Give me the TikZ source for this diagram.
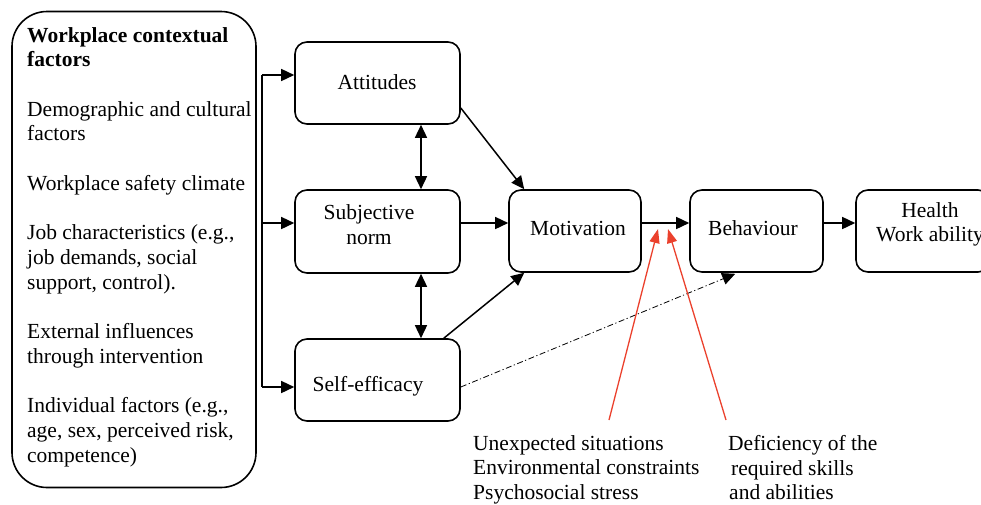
\documentclass[tikz,border=0pt]{standalone}
\usepackage{fontspec}
\setmainfont{Liberation Serif}
\usetikzlibrary{arrows.meta,calc}
\definecolor{redarrow}{RGB}{235,65,45}
\begin{document}
\begin{tikzpicture}[x=1pt,y=-1pt,
  box/.style={draw,line width=1.6pt,rounded corners=12pt,inner sep=0pt},
  txt/.style={font=\fontsize{21.5}{24.7}\selectfont,inner sep=0pt},
  conn/.style={line width=1.5pt},
  arr/.style={line width=1.5pt,-{Triangle[length=13pt,width=12pt]}},
  darr/.style={line width=1.5pt,{Triangle[length=13pt,width=12pt]}-{Triangle[length=13pt,width=12pt]}},
  redarr/.style={draw=redarrow,line width=1.3pt,-{Triangle[length=14pt,width=10pt,fill=redarrow]}},
  dasharr/.style={line width=0.8pt,dash pattern=on 6pt off 2.5pt on 1.2pt off 2.5pt,-{Triangle[length=13pt,width=12pt]}}]
\useasboundingbox (0,0) rectangle (981,504);
\clip (0,0) rectangle (981,504);

% boxes
\node[box,rounded corners=35pt,minimum width=244pt,minimum height=476pt] (ctx) at (134,249.5) {};
\node[box,minimum width=165pt,minimum height=82pt] (att) at (377.5,83) {};
\node[box,minimum width=165pt,minimum height=83pt] (sn) at (377.5,231.5) {};
\node[box,minimum width=165pt,minimum height=82pt] (se) at (377.5,380) {};
\node[box,minimum width=132pt,minimum height=82pt] (mot) at (575,231) {};
\node[box,minimum width=133pt,minimum height=82pt] (beh) at (756.5,231) {};
\node[box,minimum width=134pt,minimum height=82pt] (hea) at (923,231) {};

% texts
\node[txt,anchor=north west,align=left] (ctxt) at (27,27)
 {\textbf{Workplace contextual}\\\textbf{factors}\\[24.7pt]
  Demographic and cultural\\factors\\[24.7pt]
  Workplace safety climate\\[24.7pt]
  Job characteristics (e.g.,\\job demands, social\\support, control).\\[24.7pt]
  External influences\\through intervention\\[24.7pt]
  Individual factors (e.g.,\\age, sex, perceived risk,\\competence)};
\node[txt] (attt) at (377,82) {Attitudes};
\node[txt,align=center] (snt) at (369,224.5) {Subjective\\norm};
\node[txt] (set) at (368,386) {Self-efficacy};
\node[txt] (mott) at (578,228) {Motivation};
\node[txt] (beht) at (753,228) {Behaviour};
\node[txt,align=center] (heat) at (930,224.5) {Health\\Work ability};
\node[txt,anchor=north west,align=left] (lowa) at (473,435)
 {Unexpected situations\\Environmental constraints\\Psychosocial stress};
\node[txt,anchor=north west,align=left] (lowb) at (728,435)
 {Deficiency of the\\\hspace*{3pt}required skills\\\hspace*{1pt}and abilities};

% bracket
\coordinate (bt) at (262,75);
\coordinate (bm) at (262,223);
\coordinate (bb) at (262,387);
\draw[conn] (bt) -- (bb);
\draw[arr] (bt) -- (bt -| att.west);
\draw[arr] (bm) -- (bm -| sn.west);
\draw[arr] (bb) -- (bb -| se.west);

% connectors
\draw[darr] ($(att.south)+(43.5,0)$) -- ($(sn.north)+(43.5,0)$);
\draw[darr] ($(sn.south)+(43.5,0)$) -- ($(se.north)+(43.5,0)$);
\draw[arr] ($(att.east)+(0,25)$) -- ($(mot.north west)+(16,0)$);
\draw[arr] ($(se.north east)+(-17,0)$) -- ($(mot.south west)+(16,0)$);
\draw[arr] ($(sn.east)+(0,-8.5)$) coordinate (s1) -- (s1 -| mot.west);
\draw[arr] ($(mot.east)+(0,-8)$) coordinate (s2) -- (s2 -| beh.west);
\draw[arr] ($(beh.east)+(0,-8)$) coordinate (s3) -- (s3 -| hea.west);
\draw[dasharr] ($(se.east)+(0,7)$) -- ($(beh.south west)+(46,1)$);

% red arrows
\coordinate (r1s) at (609,420);
\coordinate (r1e) at (658,229);
\coordinate (r2s) at (726,420);
\coordinate (r2e) at (668,229);
\draw[redarr] (r1s) -- (r1e);
\draw[redarr] (r2s) -- (r2e);
\end{tikzpicture}
\end{document}
